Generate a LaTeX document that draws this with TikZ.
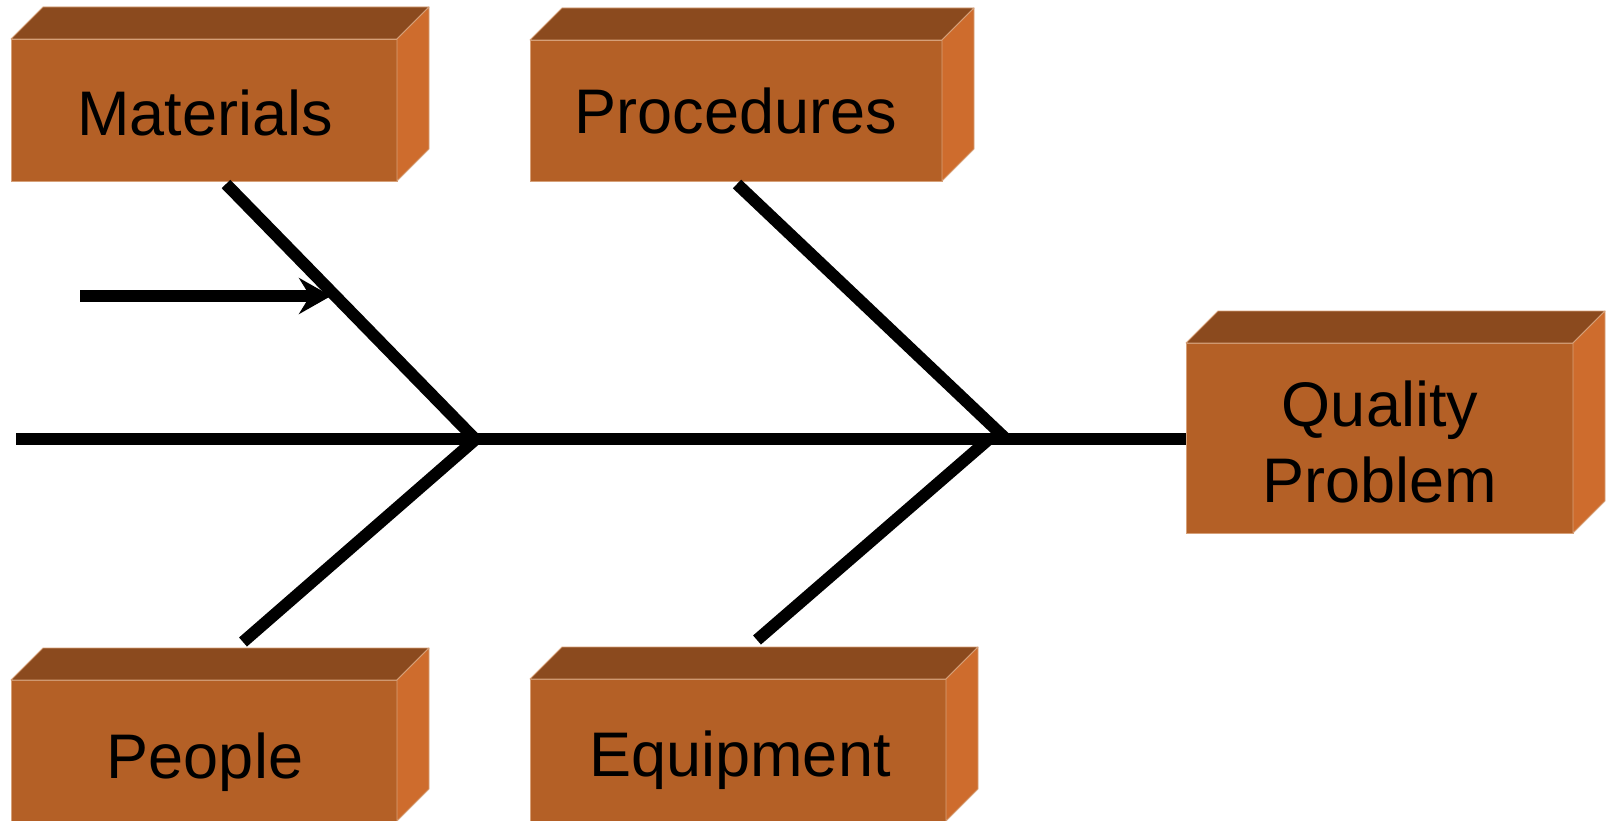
\documentclass[tikz,border=0pt]{standalone}
\usepackage{fontspec}
\setmainfont{Liberation Sans}
\usetikzlibrary{arrows.meta,calc}
\definecolor{frontc}{RGB}{180,96,38}
\definecolor{topc}{RGB}{139,74,30}
\definecolor{sidec}{RGB}{206,108,45}
\definecolor{edgec}{RGB}{214,160,120}
\tikzset{
  face/.style={rectangle, fill=frontc, draw=edgec, line width=0.8pt, inner sep=0pt, outer sep=0pt},
  topface/.style={fill=topc, draw=edgec, line width=0.8pt, line join=round},
  sideface/.style={fill=sidec, draw=edgec, line width=0.8pt, line join=round},
  lbl/.style={anchor=base, inner sep=0pt, font=\fontsize{63}{74}\selectfont},
  bone/.style={line width=12pt, black, line cap=butt},
}
\newcommand{\boxdepth}[1]{%
  \fill[topface] (#1.north west) -- ++(32,-32) -- ($(#1.north east)+(32,-32)$) -- (#1.north east) -- cycle;
  \fill[sideface] (#1.north east) -- ++(32,-32) -- ($(#1.south east)+(32,-32)$) -- (#1.south east) -- cycle;
}
\begin{document}
\begin{tikzpicture}[x=1pt,y=-1pt]
\useasboundingbox (0,0) rectangle (1616,821);
% boxes (front faces)
\node[face, minimum width=386pt, minimum height=142pt] (mat) at (204,110) {};
\node[face, minimum width=412pt, minimum height=141pt] (proc) at (736,110.5) {};
\node[face, minimum width=386pt, minimum height=141pt] (peop) at (204,750.5) {};
\node[face, minimum width=416pt, minimum height=142pt] (equip) at (738,750) {};
\node[face, minimum width=387pt, minimum height=190pt] (qp) at (1379.5,438) {};
\boxdepth{mat}
\boxdepth{proc}
\boxdepth{peop}
\boxdepth{equip}
\boxdepth{qp}
% labels
\node[lbl] (matT) at (205,136) {Materials};
\node[lbl] (procT) at (736,134) {Procedures};
\node[lbl] (peopT) at (205,778) {People};
\node[lbl] (equipT) at (740,776) {Equipment};
\node[lbl] (qpT1) at (1380,426) {Quality};
\node[lbl] (qpT2) at (1380,502) {Problem};
% connector coordinates
\coordinate (tail) at (16,439);
\coordinate (j1) at (475,439);
\coordinate (j1b) at (476,439);
\coordinate (j2) at (1006,439);
\coordinate (j2b) at (989,439);
\coordinate (mEnd) at (226,184);
\coordinate (pEnd) at (737,184);
\coordinate (peEnd) at (243,642);
\coordinate (eEnd) at (757,640);
\coordinate (a0) at (80,296);
\coordinate (a1) at (331,296);
% spine and bones
\draw[bone] (tail) -- (tail -| qp.west);
\draw[bone] (mEnd) -- (j1);
\draw[bone] (peEnd) -- (j1b);
\draw[bone] (pEnd) -- (j2);
\draw[bone] (eEnd) -- (j2b);
\draw[bone, -{Stealth[length=32pt,width=36pt,inset=11pt]}] (a0) -- (a1);
\end{tikzpicture}
\end{document}
